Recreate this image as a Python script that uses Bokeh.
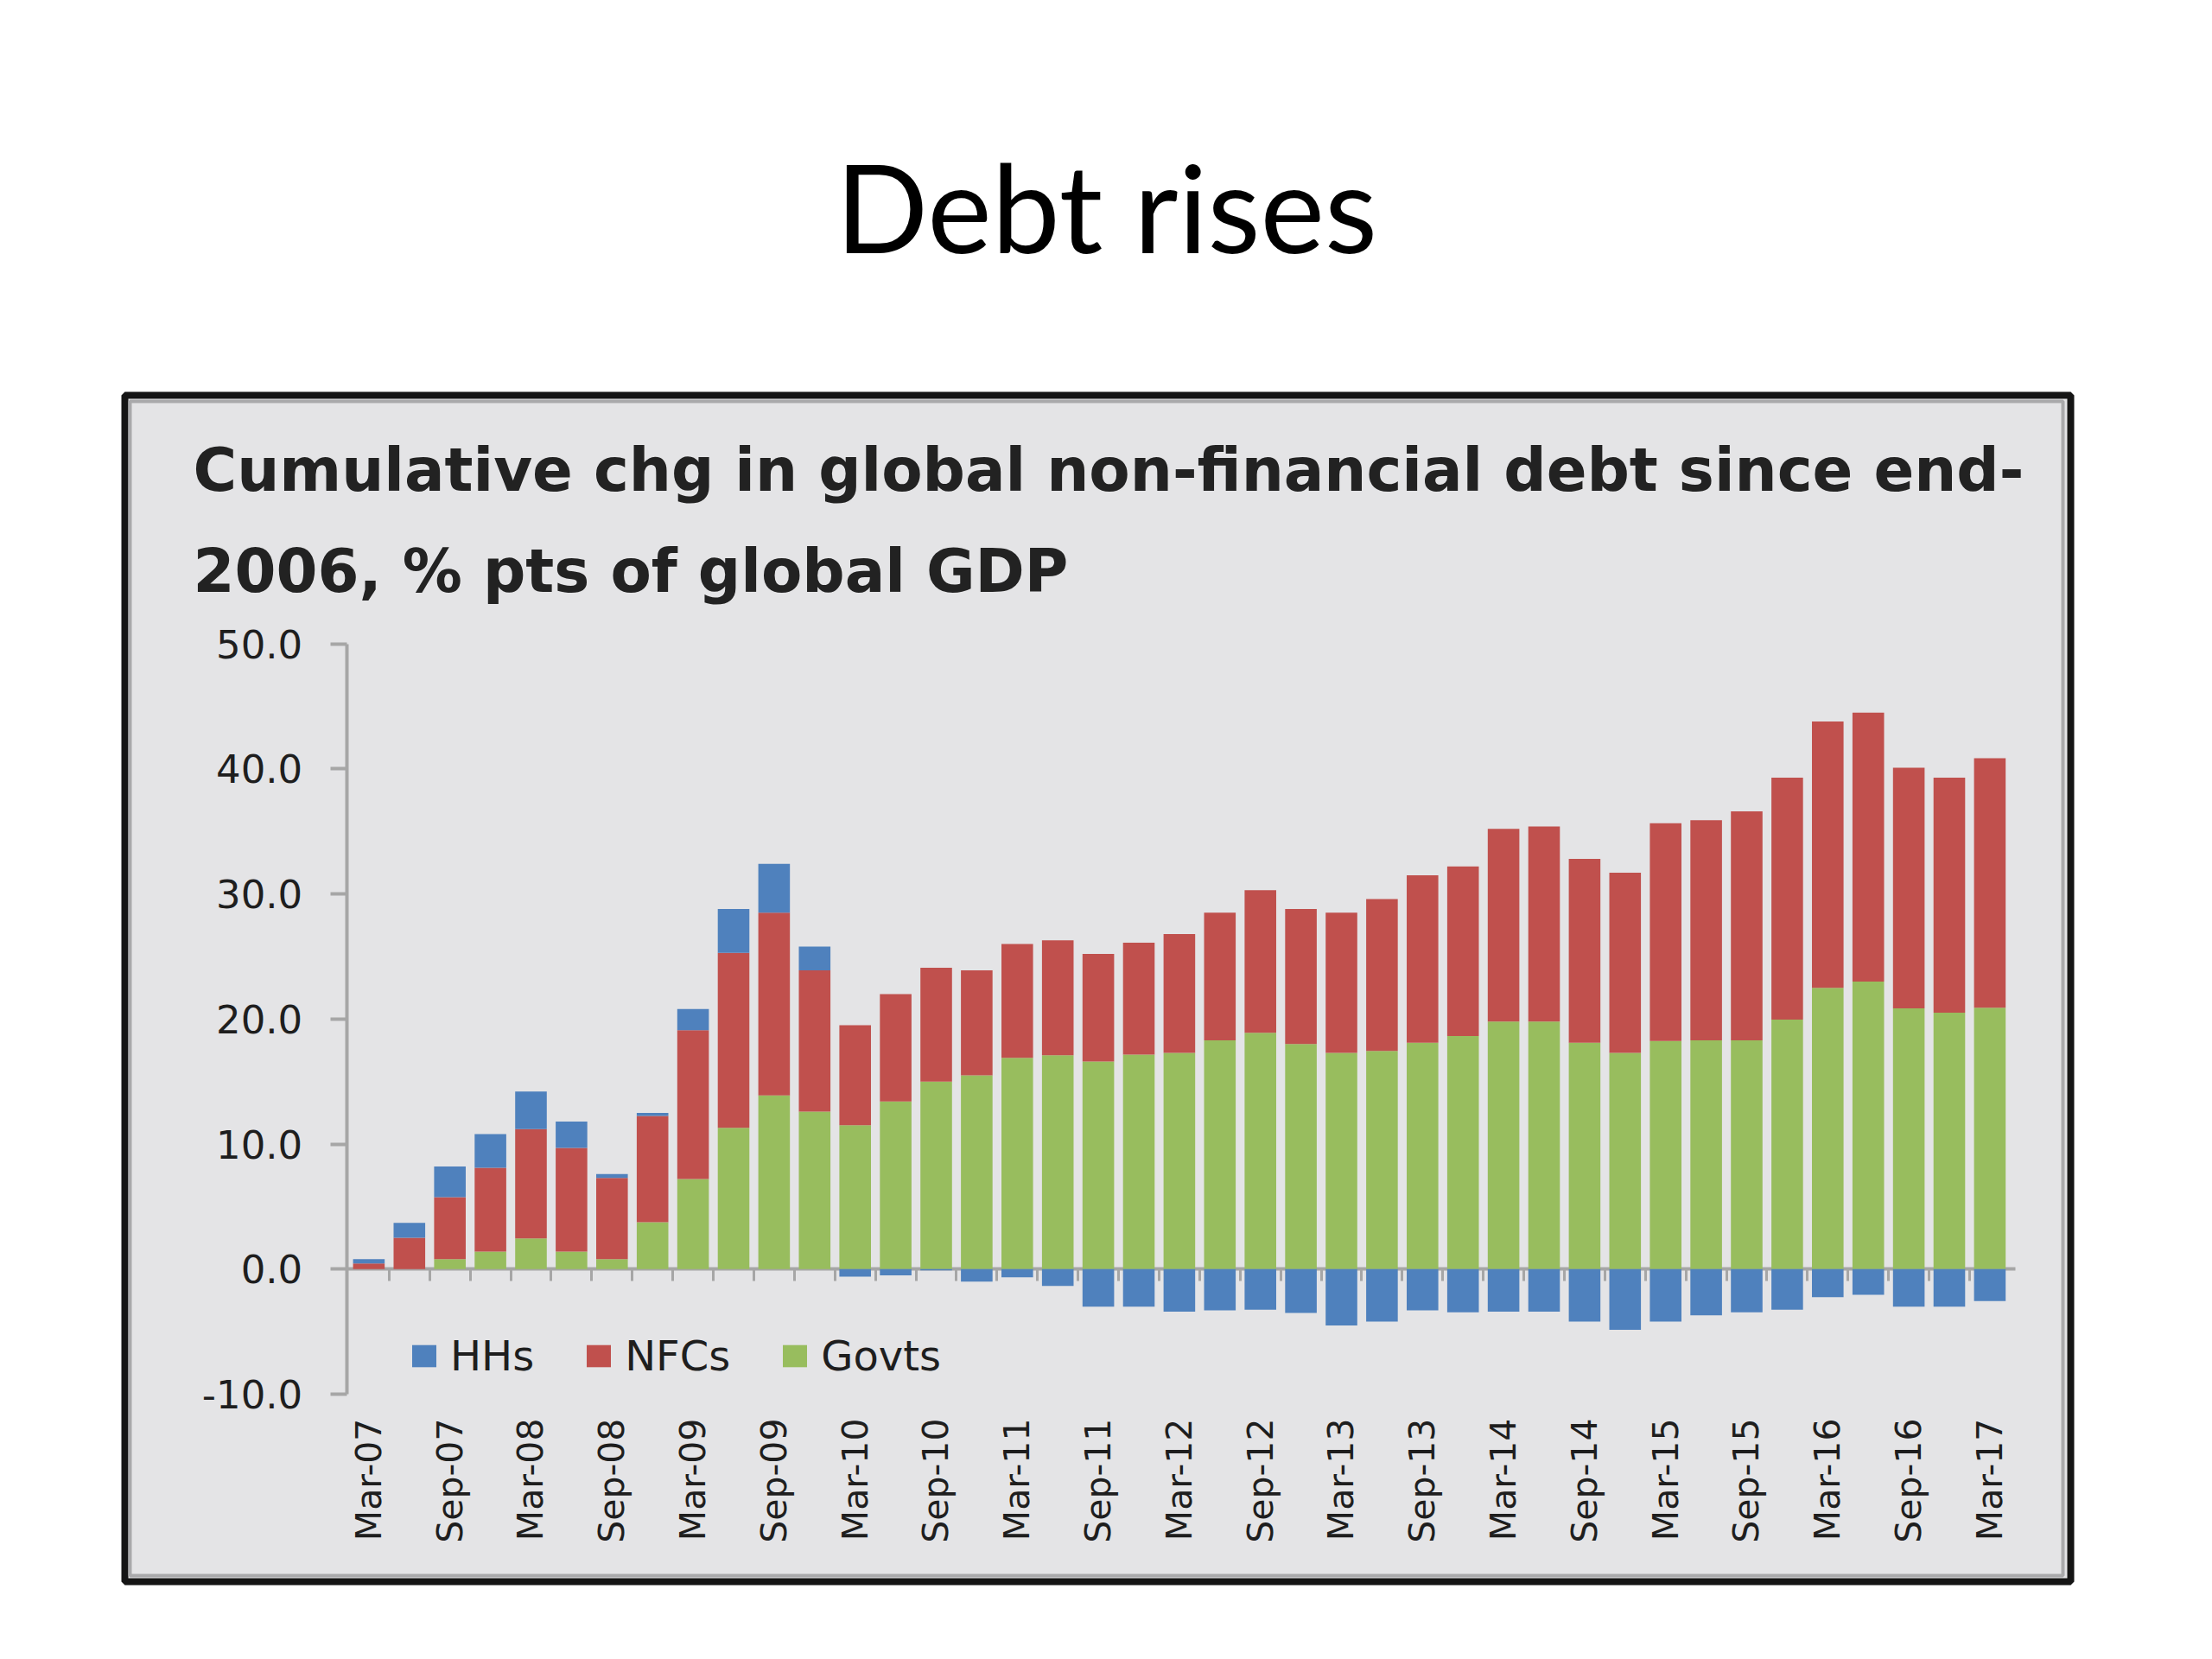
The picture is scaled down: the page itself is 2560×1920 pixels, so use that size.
import math
import numpy as np
from bokeh.plotting import figure
from bokeh.models import (Range1d, FixedTicker, PrintfTickFormatter, LinearAxis,
                          Label, BoxAnnotation, Legend, ColumnDataSource)
from bokeh.embed import file_html
from bokeh.resources import INLINE

# ---------------- data ----------------
quarters = ["Mar-07", "Jun-07", "Sep-07", "Dec-07", "Mar-08", "Jun-08", "Sep-08", "Dec-08",
            "Mar-09", "Jun-09", "Sep-09", "Dec-09", "Mar-10", "Jun-10", "Sep-10", "Dec-10",
            "Mar-11", "Jun-11", "Sep-11", "Dec-11", "Mar-12", "Jun-12", "Sep-12", "Dec-12",
            "Mar-13", "Jun-13", "Sep-13", "Dec-13", "Mar-14", "Jun-14", "Sep-14", "Dec-14",
            "Mar-15", "Jun-15", "Sep-15", "Dec-15", "Mar-16", "Jun-16", "Sep-16", "Dec-16",
            "Mar-17"]

tick_labels = ["Mar-07", "Sep-07", "Mar-08", "Sep-08", "Mar-09", "Sep-09", "Mar-10",
               "Sep-10", "Mar-11", "Sep-11", "Mar-12", "Sep-12", "Mar-13", "Sep-13",
               "Mar-14", "Sep-14", "Mar-15", "Sep-15", "Mar-16", "Sep-16", "Mar-17"]

govts = [0.0, 0.0, 0.8, 1.4, 2.45, 1.4, 0.8, 3.75, 7.2, 11.3, 13.9, 12.6, 11.5, 13.4,
         15.0, 15.5, 16.9, 17.1, 16.6, 17.15, 17.3, 18.3, 18.9, 18.0, 17.3, 17.45, 18.1,
         18.65, 19.8, 19.8, 18.1, 17.3, 18.25, 18.3, 18.3, 19.95, 22.5, 23.0, 20.85,
         20.5, 20.9]

nfcs = [0.45, 2.5, 4.95, 6.7, 8.75, 8.3, 6.5, 8.5, 11.9, 14.0, 14.6, 11.3, 8.0, 8.6,
        9.1, 8.4, 9.1, 9.2, 8.6, 8.95, 9.5, 10.2, 11.4, 10.8, 11.2, 12.15, 13.4, 13.55,
        15.4, 15.6, 14.7, 14.4, 17.4, 17.6, 18.3, 19.35, 21.3, 21.5, 19.25, 18.8, 19.95]

hhs = [0.35, 1.2, 2.45, 2.7, 3.0, 2.1, 0.3, 0.25, 1.7, 3.5, 3.9, 1.9, -0.6, -0.5,
       -0.1, -1.0, -0.65, -1.35, -3.0, -3.0, -3.4, -3.3, -3.25, -3.5, -4.5, -4.2, -3.3,
       -3.45, -3.4, -3.4, -4.2, -4.85, -4.2, -3.7, -3.45, -3.25, -2.25, -2.05, -3.0,
       -3.0, -2.55]

y_ticks = [-10, 0, 10, 20, 30, 40, 50]
y_min, y_max = -10, 50

# ---------------- styling / layout ----------------
BLUE = "#4f81bd"
RED = "#c0504d"
GREEN = "#98bd5e"
BG = "#e4e4e6"
AXIS_GREY = "#a6a6a6"
TXT = "#1e1e1e"

CW, CH = 2544, 1904          # canvas size (the plot frame covers it all)
X0 = 426.4                   # canvas x of first category centre
PXQ = 46.9                   # pixels per category
Y0 = 1468.3                  # canvas y of value 0
PXU = 14.473                 # pixels per value unit
AXIS_X = 400.7               # canvas x of the value axis line
RIGHT_X = 2332.0             # canvas x where the category axis ends

x_lo = (AXIS_X - X0) / PXQ
x_hi = (RIGHT_X - X0) / PXQ

g = np.array(govts)
n = np.array(nfcs)
h = np.array(hhs)
x = np.arange(len(quarters))
n_top = g + n
src = ColumnDataSource(dict(
    x=x,
    g_bottom=np.zeros_like(g), g_top=g,
    n_bottom=g, n_top=n_top,
    h_bottom=np.where(h >= 0, n_top, 0.0),
    h_top=np.where(h >= 0, n_top + h, h),
))

p = figure(frame_width=CW, frame_height=CH,
           x_range=Range1d(-X0 / PXQ, (CW - X0) / PXQ),
           y_range=Range1d((Y0 - CH) / PXU, Y0 / PXU),
           min_border=0, x_axis_location=None, y_axis_location=None,
           output_backend="svg", toolbar_location=None,
           background_fill_color="white", border_fill_color="white",
           outline_line_color=None)
p.grid.visible = False

# framed chart box
p.add_layout(BoxAnnotation(left=144, right=2396, top=457, bottom=1830,
                           left_units="canvas", right_units="canvas",
                           top_units="canvas", bottom_units="canvas",
                           fill_color=BG, fill_alpha=1.0,
                           line_color="#151515", line_alpha=1.0, line_width=8,
                           line_dash="solid", level="image"))
p.add_layout(BoxAnnotation(left=150, right=2387, top=464, bottom=1823,
                           left_units="canvas", right_units="canvas",
                           top_units="canvas", bottom_units="canvas",
                           fill_alpha=0.0,
                           line_color="#a9a9ab", line_alpha=1.0, line_width=4,
                           line_dash="solid", level="image"))

# zero line with tick marks between categories
zero_axis = LinearAxis(fixed_location=0, bounds=(x_lo, x_hi),
                       ticker=FixedTicker(ticks=[], minor_ticks=[i + 0.5 for i in range(len(quarters) - 1)]),
                       axis_line_color=AXIS_GREY, axis_line_width=4,
                       major_tick_line_color=None,
                       minor_tick_line_color=AXIS_GREY, minor_tick_line_width=3,
                       minor_tick_out=14, minor_tick_in=0)
zero_axis.level = "underlay"
p.add_layout(zero_axis, "below")

W = 0.78
r_g = p.vbar(x="x", bottom="g_bottom", top="g_top", width=W, source=src,
             fill_color=GREEN, line_color=None)
r_n = p.vbar(x="x", bottom="n_bottom", top="n_top", width=W, source=src,
             fill_color=RED, line_color=None)
r_h = p.vbar(x="x", bottom="h_bottom", top="h_top", width=W, source=src,
             fill_color=BLUE, line_color=None)

# value axis
ya = LinearAxis(fixed_location=x_lo, bounds=(y_min, y_max),
                ticker=FixedTicker(ticks=y_ticks),
                formatter=PrintfTickFormatter(format="%.1f"),
                axis_line_color=AXIS_GREY, axis_line_width=4,
                major_tick_line_color=AXIS_GREY, major_tick_line_width=4,
                major_tick_out=19, major_tick_in=0,
                minor_tick_line_color=None,
                major_label_text_font="DejaVu Sans",
                major_label_text_font_size="45px",
                major_label_text_color=TXT,
                major_label_standoff=32)
p.add_layout(ya, "left")

# category labels (below the value range)
xa = LinearAxis(fixed_location=y_min, bounds=(x_lo, x_hi),
                ticker=FixedTicker(ticks=[quarters.index(t) for t in tick_labels]),
                major_label_overrides={quarters.index(t): t for t in tick_labels},
                major_label_orientation=math.pi / 2,
                axis_line_color=None, major_tick_line_color=None,
                minor_tick_line_color=None, major_tick_out=0, major_tick_in=0,
                major_label_standoff=28,
                major_label_text_font="DejaVu Sans",
                major_label_text_font_size="41px",
                major_label_text_color=TXT)
p.add_layout(xa, "below")

# legend
legend = Legend(items=[("HHs", [r_h]), ("NFCs", [r_n]), ("Govts", [r_g])],
                orientation="horizontal", location=(473, 307),
                glyph_width=35, glyph_height=32, label_standoff=13, spacing=57,
                padding=0, margin=0, border_line_color=None,
                background_fill_alpha=0.0,
                label_text_font="DejaVu Sans", label_text_font_size="48px",
                label_text_color=TXT)
p.add_layout(legend)

# texts
p.add_layout(Label(x=1280, y=238, x_units="canvas", y_units="canvas",
                   text="Debt rises", text_align="center", text_baseline="alphabetic",
                   text_font="Lato", text_font_size="141px", text_color="black"))
p.add_layout(Label(x=223, y=543, x_units="canvas", y_units="canvas",
                   text="Cumulative chg in global non-financial debt since end-",
                   text_align="left", text_baseline="alphabetic",
                   text_font="DejaVu Sans", text_font_style="bold",
                   text_font_size="69px", text_color="#222222"))
p.add_layout(Label(x=223, y=660, x_units="canvas", y_units="canvas",
                   text="2006, % pts of global GDP",
                   text_align="left", text_baseline="alphabetic",
                   text_font="DejaVu Sans", text_font_style="bold",
                   text_font_size="69px", text_color="#222222"))

open("out.html", "w").write(file_html(p, INLINE))
